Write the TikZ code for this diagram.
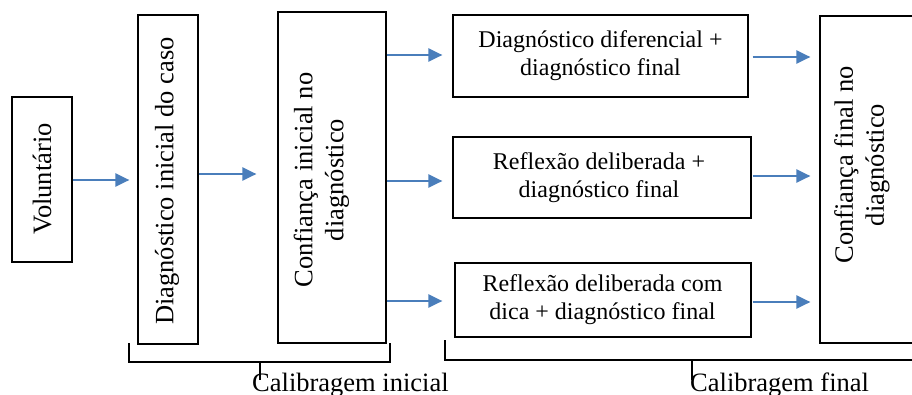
\documentclass[tikz,border=0pt]{standalone}
\usepackage{fontspec}
\setmainfont{Liberation Serif}
\usetikzlibrary{arrows.meta}
\definecolor{arrowblue}{RGB}{74,126,187}
\tikzset{
  box/.style={draw=black, line width=1.2pt, inner sep=0pt, anchor=center},
  vtext/.style={rotate=90, align=center, inner sep=0pt, font=\fontsize{26.5}{31}\selectfont},
  htext/.style={align=center, inner sep=0pt, font=\fontsize{24}{28}\selectfont},
  flow/.style={draw=arrowblue, line width=2.2pt, -{Triangle[length=14pt,width=13pt]}},
  brace/.style={draw=black, line width=1.5pt},
  caltext/.style={inner sep=0pt, anchor=base west, font=\fontsize{26.5}{31}\selectfont}
}
\begin{document}
\begin{tikzpicture}[x=1pt,y=-1pt]
\useasboundingbox (0,0) rectangle (912,394);
% boxes
\node[box, minimum width=60pt, minimum height=165pt] (vol) at (42,179.5) {};
\node[box, minimum width=60pt, minimum height=329pt] (diag) at (168,179.5) {};
\node[box, minimum width=108pt, minimum height=331pt] (conf) at (332,177.5) {};
\node[box, minimum width=295pt, minimum height=82pt] (A) at (600.5,56) {};
\node[box, minimum width=298pt, minimum height=81pt] (B) at (602,177.5) {};
\node[box, minimum width=296pt, minimum height=74pt] (C) at (603,300) {};
\node[box, minimum width=110pt, minimum height=327pt] (fin) at (875,179.5) {};
% texts
\node[vtext] (tvol) at (42,179) {Voluntário};
\node[vtext] (tdiag) at (167,181) {Diagnóstico inicial do caso};
\node[vtext] (tconf) at (321.5,180) {Confiança inicial no\\diagnóstico};
\node[htext] (tA) at (600.5,56) {Diagnóstico diferencial +\\diagnóstico final};
\node[htext] (tB) at (599,178) {Reflexão deliberada +\\diagnóstico final};
\node[htext] (tC) at (602.5,300) {Reflexão deliberada com\\dica + diagnóstico final};
\node[vtext] (tfin) at (862,165) {Confiança final no\\diagnóstico};
% arrows
\draw[flow, shorten >=8pt] (vol.east |- 0,180) -- (diag.west |- 0,180);
\draw[flow, shorten >=21pt] (diag.east |- 0,174) -- (conf.west |- 0,174);
\draw[flow, shorten >=10pt] (conf.east |- 0,55) -- (A.west |- 0,55);
\draw[flow, shorten >=10pt] (conf.east |- 0,181) -- (B.west |- 0,181);
\draw[flow, shorten >=12pt] (conf.east |- 0,301) -- (C.west |- 0,301);
\draw[flow, shorten >=9pt, shorten <=4pt] (A.east |- 0,57) -- (fin.west |- 0,57);
\draw[flow, shorten >=9pt, shorten <=1pt] (B.east |- 0,176) -- (fin.west |- 0,176);
\draw[flow, shorten >=9pt, shorten <=1pt] (C.east |- 0,302) -- (fin.west |- 0,302);
% brackets and labels
\node[caltext] (calI) at (252,391) {Calibragem inicial};
\node[caltext] (calF) at (690,391) {Calibragem final};
\coordinate (li) at (129,343);
\coordinate (ri) at (390,343);
\coordinate (lf) at (445,340);
\coordinate (rf) at (915,360);
\draw[brace] (li) -- (129,362) -- (390,362) -- (ri);
\draw[brace] (260,362) -- (260,380);
\draw[brace] (lf) -- (445,360) -- (rf);
\draw[brace] (692,360) -- (692,380);
\end{tikzpicture}
\end{document}
